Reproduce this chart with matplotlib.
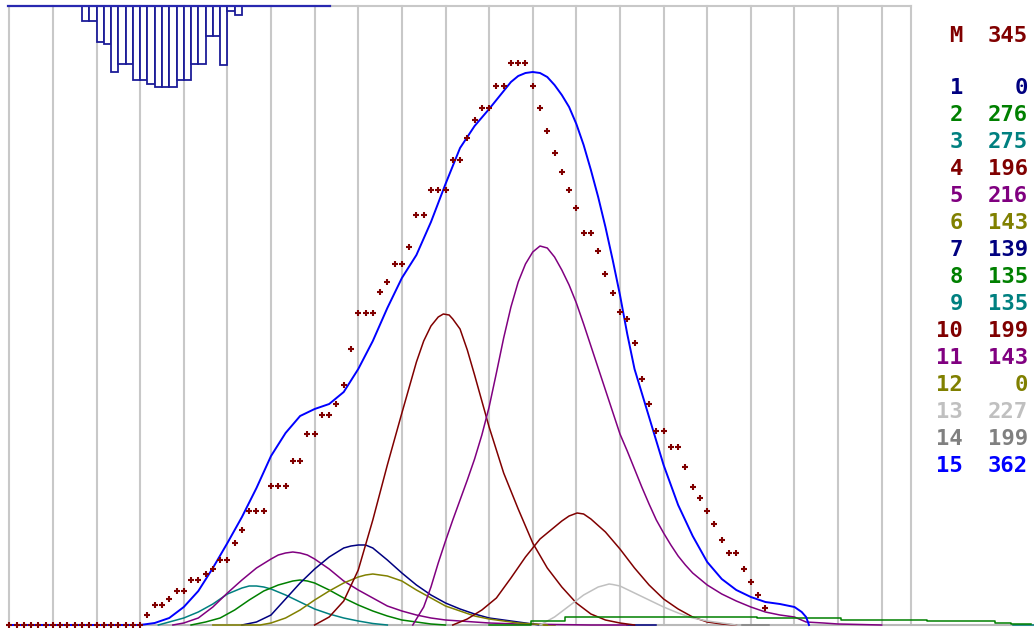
"""
Peak decomposition plot: measured channel counts, fitted total and components
"""

import matplotlib
matplotlib.use("Agg")
import matplotlib.pyplot as plt

# ---- measured spectrum (counts per channel) ----
counts = [0] * 19 + [
    10, 20, 20, 26, 34, 34, 45, 45, 51, 56,
    65, 65, 82, 95, 114, 114, 114, 139, 139, 139,
    164, 164, 191, 191, 210, 210, 221, 240, 276, 312,
    312, 312, 333, 343, 361, 361, 378, 410, 410, 435,
    435, 435, 465, 465, 487, 505, 517, 517, 539, 539,
    562, 562, 562, 539, 517, 494, 472, 453, 435, 417,
    392, 392, 374, 351, 332, 313, 306, 282, 246, 221,
    194, 194, 178, 178, 158, 138, 127, 114, 101, 85,
    72, 72, 56, 43, 30, 17,
]
channels = list(range(len(counts)))

# ---- residual histogram hanging from the top edge ----
hist_first = 10
hist_depth = [15, 15, 36, 38, 66, 58, 58, 74, 74, 78, 81,
              81, 81, 74, 74, 58, 58, 30, 30, 59, 5, 9]

# ---- fitted total (curve 15) ----
total_ch = [0, 18, 20, 22, 24, 26, 28, 30, 32, 34, 36, 38, 40, 42, 44, 46, 48,
            50, 52, 54, 56, 58, 60, 62, 64, 66, 68, 69, 70, 71, 72, 73, 74,
            75, 76, 77, 78, 79, 80, 81, 82, 83, 84, 85, 86, 87, 88, 90, 92,
            94, 96, 98, 100, 102, 104, 106, 108, 109, 109.6, 110]
total_val = [0, 0, 2, 7, 18, 34, 57, 82, 108, 137, 169, 192, 209, 216, 221,
             233, 256, 284, 317, 347, 370, 403, 441, 477, 499, 516, 534, 543,
             549, 552, 553, 552, 548, 540, 530, 518, 501, 480, 455, 428, 398,
             365, 330, 291, 256, 232, 208, 160, 120, 89, 63, 46, 35, 28, 23,
             21, 18, 13, 8, 0]

# ---- fitted components ----
c2_ch = [25, 27, 29, 31, 33, 35, 37, 39, 40, 41, 42, 44, 46, 48, 50, 52, 54, 56, 58, 60]
c2_val = [0, 3, 7, 15, 25, 34, 40, 44, 45, 44, 42, 35, 27, 20, 14, 9, 5, 3, 1, 0]

c3_ch = [20.5, 22, 24, 26, 28, 30, 32, 33, 34, 35, 36, 38, 40, 42, 44, 46, 48, 50, 52]
c3_val = [0, 3, 7, 13, 21, 31, 37, 39, 39, 38, 36, 30, 23, 16, 11, 7, 4, 1.5, 0]

c4_ch = [42, 44, 46, 48, 50, 52, 54, 56, 57, 58, 59, 59.7, 60.5, 61, 62, 63,
         64, 66, 68, 70, 72, 74, 76, 78, 80, 82, 84, 86]
c4_val = [0, 8, 24, 55, 105, 160, 212, 263, 284, 299, 308, 311, 310, 306,
          296, 275, 250, 198, 152, 116, 82, 57, 38, 22, 11, 5, 2, 0]

c5_ch = [55.5, 57, 58, 59, 60, 61, 62, 63, 64, 65, 66, 67, 68, 69, 70, 71, 72,
         73, 74, 75, 76, 77, 78, 79, 80, 81, 82, 83, 84, 85, 86, 87, 88, 89,
         90, 91, 92, 93, 94, 96, 98, 100, 102, 104, 106, 108, 109.6, 112,
         114, 120]
c5_val = [0, 18, 38, 62, 84, 105, 125, 145, 166, 190, 218, 252, 287, 318, 343,
          361, 373, 379, 377, 368, 355, 340, 322, 301, 279, 257, 235, 213, 191,
          174, 156, 138, 121, 105, 92, 80, 69, 60, 52, 40, 31, 24, 18, 13, 10,
          8, 3, 2, 1, 0]

c6_ch = [28, 34.5, 36, 38, 40, 42, 44, 46, 48, 49, 50, 51, 52, 54, 56, 58, 60,
         62, 64, 66, 68, 70, 72, 74]
c6_val = [0, 0, 2, 7, 15, 25, 34, 42, 48, 50, 51, 50, 49, 44, 35, 27, 19, 14,
          9, 6, 4, 2, 1, 0]

c7_ch = [32, 34, 36, 38, 40, 42, 44, 46, 47, 48, 49, 50, 52, 54, 56, 58, 60,
         62, 64, 66, 68, 70, 72, 73]
c7_val = [0, 3, 10, 26, 42, 56, 68, 77, 79, 80, 80, 77, 65, 52, 40, 30, 22,
          16, 11, 7, 5, 3, 1, 0]

c8_ch = [66, 71.7, 76.4, 102.9, 114.4, 126.2, 135.6, 137.8, 140.5]
c8_val = [0, 4, 8, 7, 5.5, 4, 2.5, 1, 1]

c10_ch = [61, 63, 65, 67, 69, 71, 73, 75, 76, 77, 78.1, 79, 80, 82, 84, 86,
          88, 90, 92, 94, 96, 98, 100]
c10_val = [0, 6, 15, 27, 47, 68, 86, 98, 104, 109, 112, 111, 106, 93, 76, 57,
           40, 26, 16, 8, 3, 1, 0]

c11_ch = [22.5, 24, 26, 28, 30, 32, 34, 36, 37, 38, 39, 40, 41, 42, 44, 46, 48,
          50, 52, 54, 56, 58, 60, 62, 66, 70, 80, 85]
c11_val = [0, 2, 7, 18, 32, 45, 57, 66, 70, 72, 73, 72, 70, 66, 56, 44, 35,
           27, 19, 14, 10, 7, 5, 4, 2, 1, 0, 0]

c13_ch = [73, 75, 77, 79, 81, 82, 82.5, 83, 84, 86, 88, 90, 92, 94, 96, 98, 100]
c13_val = [0, 8, 19, 30, 38, 40, 41, 40.5, 39, 32, 25, 18, 12, 7, 4, 2, 0]

# components that sit on the baseline
c1_ch, c1_val = [85, 89], [0, 0]
c9_ch, c9_val = [138, 141], [0, 0]
c12_ch, c12_val = [73.5, 75], [0, 0]
c14_ch, c14_val = [100.8, 104.5], [0, 0]

# ---- side table ----
peak_max = 345
row_ids = [str(i) for i in range(1, 16)]
row_vals = [0, 276, 275, 196, 216, 143, 139, 135, 135, 199, 143, 0, 227, 199, 362]

NAVY, GREEN, TEAL, MAROON = '#000080', '#008000', '#008080', '#800000'
PURPLE, OLIVE, SILVER, GRAY, BLUE = '#800080', '#808000', '#c0c0c0', '#808080', '#0000ff'
row_colors = [NAVY, GREEN, TEAL, MAROON, PURPLE, OLIVE, NAVY, GREEN, TEAL,
              MAROON, PURPLE, OLIVE, SILVER, GRAY, BLUE]

GRID = '#c8c8c8'
TOP = 619          # top edge of the plotting frame, in count units
RIGHT = 124        # right edge of the plotting frame, in channels

fig = plt.figure(figsize=(10.34, 6.28), dpi=100)
ax = fig.add_axes([0, 0, 1, 1])
ax.set_xlim(-1.28, 140.95)
ax.set_ylim(-3, 625)
ax.axis('off')

# frame and grid
for g in range(0, 121, 6):
    ax.plot([g, g], [0, TOP], color=GRID, lw=1.5, zorder=1)
ax.plot([RIGHT, RIGHT], [0, TOP], color=GRID, lw=1.5, zorder=1)
ax.plot([44.1, RIGHT], [TOP, TOP], color=GRID, lw=1.5, zorder=1)
ax.plot([-0.2, 141], [0, 0], color='#b9b9b9', lw=1.5, zorder=1)

# residual histogram
ax.bar(range(hist_first, hist_first + len(hist_depth)), [-d for d in hist_depth],
       width=1, bottom=TOP, align='edge', facecolor='white',
       edgecolor='#1c1c98', lw=1.3, zorder=3)
ax.plot([-0.2, 44.1], [TOP, TOP], color='#2828b0', lw=1.6, zorder=4)

# components
comp_lw = 1.1
for ch, val, col in [
    (c1_ch, c1_val, NAVY), (c12_ch, c12_val, OLIVE), (c14_ch, c14_val, GRAY),
    (c9_ch, c9_val, TEAL),
    (c3_ch, c3_val, TEAL), (c11_ch, c11_val, PURPLE), (c2_ch, c2_val, GREEN),
    (c7_ch, c7_val, NAVY), (c6_ch, c6_val, OLIVE), (c4_ch, c4_val, MAROON),
    (c5_ch, c5_val, PURPLE), (c10_ch, c10_val, MAROON), (c13_ch, c13_val, SILVER),
]:
    ax.plot(ch, val, color=col, lw=comp_lw, zorder=5)
ax.plot(c8_ch, c8_val, color=GREEN, lw=comp_lw, drawstyle='steps-post', zorder=5)

# fitted total
ax.plot(total_ch, total_val, color=BLUE, lw=1.4, zorder=6)

# measured points
ax.plot(channels, counts, linestyle='none', marker='+', markersize=4.5,
        mew=1.5, color=MAROON, zorder=7)

# side table
font = dict(family='DejaVu Sans Mono', weight='bold', fontsize=16)
W, H = 1034, 628
fig.text(963 / W, 1 - 36 / H, 'M', color=MAROON, ha='right', va='center', **font)
fig.text(1028 / W, 1 - 36 / H, str(peak_max), color=MAROON, ha='right', va='center', **font)
for i, (rid, val, col) in enumerate(zip(row_ids, row_vals, row_colors)):
    y = 1 - (88 + 27 * i) / H
    fig.text(963 / W, y, rid, color=col, ha='right', va='center', **font)
    fig.text(1028 / W, y, str(val), color=col, ha='right', va='center', **font)

fig.savefig('out.png', dpi=100)
